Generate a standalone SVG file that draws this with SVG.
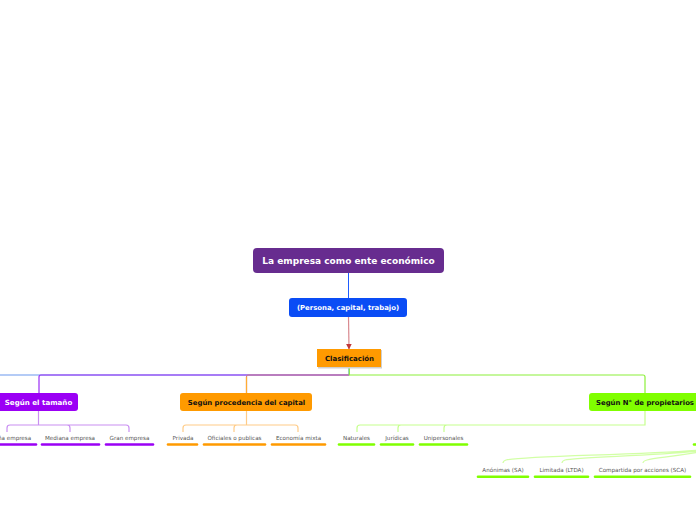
<svg xmlns="http://www.w3.org/2000/svg" width="696" height="520" viewBox="0 0 696 520">
<style>
.t{font-family:"DejaVu Sans",Verdana,sans-serif;font-weight:bold;text-anchor:middle}
.c{font-family:"DejaVu Sans",Verdana,sans-serif;font-size:5.6px;fill:#555;text-anchor:middle}
.ln{fill:none;stroke-width:1.2}
.ul{stroke-width:2.6;stroke-linecap:round}
</style>
<defs>
<marker id="arr" viewBox="0 0 10 10" refX="9" refY="5" markerWidth="5" markerHeight="5" orient="auto"><path d="M0,0 L10,5 L0,10 z" fill="#c0393b"/></marker>
</defs>
<rect width="696" height="520" fill="#fff"/>
<g id="connectors">
<line x1="348.5" y1="273" x2="348.5" y2="298" stroke="#1f5cff" stroke-width="1"/>
<line x1="348.5" y1="317" x2="349" y2="349" stroke="#d98a90" stroke-width="1.2" marker-end="url(#arr)"/>
<path class="ln" d="M349,367 V375 H0" stroke="#6a98ee"/>
<path class="ln" d="M349,375 H41 Q39,375 39,377 V393" stroke="#9a2ef5"/>
<path class="ln" d="M349,375 H248 Q246.5,375 246.5,377 V393" stroke="#cc7f86"/>
<path class="ln" d="M246.5,377 V393" stroke="#ffad33"/>
<path class="ln" d="M349.3,367 V375 H643 Q645,375 645,377 V393" stroke="#8cf03a"/>
<path class="ln" d="M38.5,411 V425 H10 Q7,425 7,428 V432 M38.5,425 H67 Q70,425 70,428 V432 M38.5,425 H126 Q129,425 129,428 V432" stroke="#c98ff2"/>
<path class="ln" d="M246.5,411 V425 H186 Q183,425 183,428 V432 M246.5,425 H237 Q234,425 234,428 V432 M246.5,425 H295 Q298,425 298,428 V432" stroke="#ffcc88"/>
<path class="ln" d="M645,411 V425 H360 Q357,425 357,428 V432 M645,425 H401 Q398,425 398,428 V432 M645,425 H447 Q444,425 444,428 V432" stroke="#c6ff8e"/>
<path class="ln" d="M700,450 C640,455 520,456 506,460 Q503,461 503,463 M700,451 C650,456 575,457 565,460 Q562,461 562,463 M700,452 C670,457 655,458 647,460 Q643,461 643,463" stroke="#d2ffa6" stroke-width="1"/>
</g>
<g id="root">
<rect x="253" y="248" width="191" height="25" rx="4" fill="#672c8f"/>
<text class="t" x="348.5" y="264.2" font-size="9" fill="#fff">La empresa como ente económico</text>
</g>
<g id="persona">
<rect x="289" y="298" width="118" height="19" rx="3" fill="#0a4cf5"/>
<text class="t" x="348" y="310.4" font-size="6.9" fill="#fff">(Persona, capital, trabajo)</text>
</g>
<g id="clasificacion">
<rect x="318" y="350" width="64" height="18.5" fill="#cfcfcf"/>
<rect x="317" y="349" width="64" height="18" fill="#ff9a00"/>
<text class="t" x="349.5" y="360.6" font-size="7" fill="#111">Clasificación</text>
</g>
<g id="tamano">
<rect x="-3" y="393" width="81" height="18" rx="3" fill="#9b00f5"/>
<text class="t" x="38.5" y="404.7" font-size="7.1" fill="#fff">Según el tamaño</text>
</g>
<g id="procedencia">
<rect x="180" y="393" width="132" height="18" rx="3" fill="#ff9a00"/>
<text class="t" x="246.5" y="404.7" font-size="6.9" fill="#111">Según procedencia del capital</text>
</g>
<g id="propietarios">
<rect x="589" y="393" width="120" height="18" rx="3" fill="#80ff00"/>
<text x="596" y="404.7" font-size="6.9" fill="#111" style="font-family:'DejaVu Sans',Verdana,sans-serif;font-weight:bold">Según N° de propietarios</text>
</g>
<g id="pequena"><text class="c" x="6" y="440">Pequeña empresa</text><line class="ul" x1="-2" y1="444.5" x2="36" y2="444.5" stroke="#9b00f5"/></g>
<g id="mediana"><text class="c" x="70" y="440">Mediana empresa</text><line class="ul" x1="42" y1="444.5" x2="99" y2="444.5" stroke="#9b00f5"/></g>
<g id="gran"><text class="c" x="129.5" y="440">Gran empresa</text><line class="ul" x1="106" y1="444.5" x2="153" y2="444.5" stroke="#9b00f5"/></g>
<g id="privada"><text class="c" x="183" y="440">Privada</text><line class="ul" x1="168" y1="444.5" x2="197" y2="444.5" stroke="#ff9a00"/></g>
<g id="oficiales"><text class="c" x="234.5" y="440">Oficiales o publicas</text><line class="ul" x1="204" y1="444.5" x2="265" y2="444.5" stroke="#ff9a00"/></g>
<g id="mixta"><text class="c" x="298.5" y="440">Economía mixta</text><line class="ul" x1="272" y1="444.5" x2="325" y2="444.5" stroke="#ff9a00"/></g>
<g id="naturales"><text class="c" x="356.5" y="440">Naturales</text><line class="ul" x1="339" y1="444.5" x2="374" y2="444.5" stroke="#80ff00"/></g>
<g id="juridicas"><text class="c" x="397" y="440">Jurídicas</text><line class="ul" x1="381" y1="444.5" x2="413" y2="444.5" stroke="#80ff00"/></g>
<g id="unipersonales"><text class="c" x="443.5" y="440">Unipersonales</text><line class="ul" x1="420" y1="444.5" x2="467" y2="444.5" stroke="#80ff00"/></g>
<g id="offright"><line class="ul" x1="694" y1="444.5" x2="700" y2="444.5" stroke="#80ff00"/></g>
<g id="anonimas"><text class="c" x="503" y="472">Anónimas (SA)</text><line class="ul" x1="478" y1="476.7" x2="528" y2="476.7" stroke="#80ff00"/></g>
<g id="limitada"><text class="c" x="561.5" y="472">Limitada (LTDA)</text><line class="ul" x1="535" y1="476.7" x2="588" y2="476.7" stroke="#80ff00"/></g>
<g id="compartida"><text class="c" x="642.5" y="472">Compartida por acciones (SCA)</text><line class="ul" x1="595" y1="476.7" x2="690" y2="476.7" stroke="#80ff00"/></g>
</svg>
